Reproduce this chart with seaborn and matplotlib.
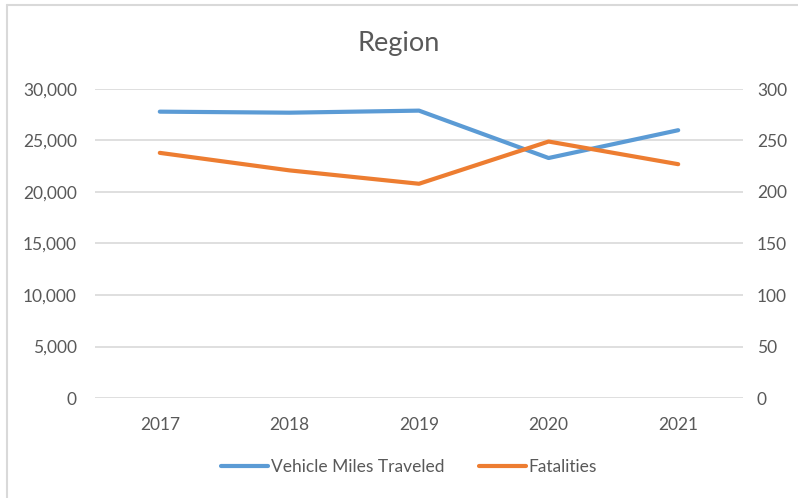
import matplotlib
matplotlib.use("Agg")
import matplotlib.pyplot as plt
import seaborn as sns
import pandas as pd
from matplotlib.lines import Line2D
from matplotlib.ticker import FuncFormatter

years = ["2017", "2018", "2019", "2020", "2021"]
vmt = [27800, 27700, 27900, 23300, 26000]
fatalities = [238, 221, 208, 249, 227]
left_ticks = [0, 5000, 10000, 15000, 20000, 25000, 30000]
right_ticks = [0, 50, 100, 150, 200, 250, 300]

sns.set_theme(style="white")
plt.rcParams['font.family'] = ['Lato', 'DejaVu Sans']

blue = "#5B9BD5"
orange = "#ED7D31"
grey_text = "#595959"
grid_col = "#D9D9D9"

df = pd.DataFrame({"Year": years, "VMT": vmt, "Fatalities": fatalities})
df["x"] = range(len(years))

fig = plt.figure(figsize=(7.98, 4.98), dpi=100)
ax = fig.add_axes([95/798, 100/498, 648/798, 309/498])
ax2 = ax.twinx()

sns.lineplot(data=df, x="x", y="VMT", ax=ax, color=blue, linewidth=3.0, legend=False)
sns.lineplot(data=df, x="x", y="Fatalities", ax=ax2, color=orange, linewidth=3.0, legend=False)
for l in ax.lines + ax2.lines:
    l.set_solid_capstyle("round")
    l.set_solid_joinstyle("round")

ax.set_xlim(-0.5, len(years) - 0.5)
ax.set_ylim(0, 30000)
ax2.set_ylim(0, 300)
ax.set_yticks(left_ticks)
ax2.set_yticks(right_ticks)
ax.yaxis.set_major_formatter(FuncFormatter(lambda v, p: f"{int(v):,}"))
ax.set_xticks(range(len(years)))
ax.set_xticklabels(years)

for a in (ax, ax2):
    for s in a.spines.values():
        s.set_visible(False)
    a.set_xlabel("")
    a.set_ylabel("")
    a.tick_params(axis="both", length=0, labelsize=12.5, colors=grey_text)

ax.tick_params(axis="y", pad=13)
ax2.tick_params(axis="y", pad=10)
ax.tick_params(axis="x", pad=14)

ax.grid(axis="y", color=grid_col, linewidth=1.2)
ax.set_axisbelow(True)

fig.text(0.5, 1 - 44/498, "Region", ha="center", va="center", fontsize=19.5, color=grey_text)

handles = [Line2D([0], [0], color=blue, lw=3.0, solid_capstyle="round"),
           Line2D([0], [0], color=orange, lw=3.0, solid_capstyle="round")]
fig.legend(handles, ["Vehicle Miles Traveled", "Fatalities"], loc="center",
           bbox_to_anchor=(0.5 + 10/798, 1 - 467/498), ncol=2, frameon=False,
           fontsize=12.5, labelcolor=grey_text, handlelength=2.7,
           handletextpad=0.15, columnspacing=2.0)

fig.add_artist(Line2D([7/798, 7/798], [0, 1 - 5/498], transform=fig.transFigure, color=grid_col, lw=1.5))
fig.add_artist(Line2D([7/798, 1], [1 - 5/498, 1 - 5/498], transform=fig.transFigure, color=grid_col, lw=1.5))

fig.savefig("out.png", dpi=100)
